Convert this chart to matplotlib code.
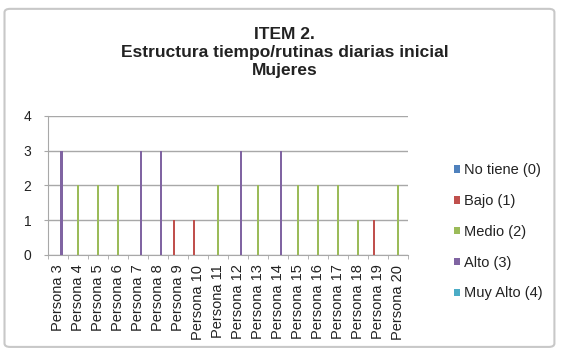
import numpy as np
import matplotlib.pyplot as plt
from matplotlib.patches import FancyBboxPatch, Patch

plt.rcParams['font.family'] = ['Liberation Sans', 'DejaVu Sans']

personas = ['Persona %d' % n for n in range(3, 21)]
series = ['No tiene (0)', 'Bajo (1)', 'Medio (2)', 'Alto (3)', 'Muy Alto (4)']
colors = ['#4F81BD', '#C0504D', '#9BBB59', '#8064A2', '#4BACC6']

# one value per persona and level (0 = no bar)
no_tiene = [0, 0, 0, 0, 0, 0, 0, 0, 0, 0, 0, 0, 0, 0, 0, 0, 0, 0]
bajo     = [0, 0, 0, 0, 0, 0, 1, 1, 0, 0, 0, 0, 0, 0, 0, 0, 1, 0]
medio    = [0, 2, 2, 2, 0, 0, 0, 0, 2, 0, 2, 0, 2, 2, 2, 1, 0, 2]
alto     = [3, 0, 0, 0, 3, 3, 0, 0, 0, 3, 0, 3, 0, 0, 0, 0, 0, 0]
muy_alto = [0, 0, 0, 0, 0, 0, 0, 0, 0, 0, 0, 0, 0, 0, 0, 0, 0, 0]
values = [no_tiene, bajo, medio, alto, muy_alto]

fig = plt.figure(figsize=(5.64, 3.54), dpi=100)
fig.patches.append(FancyBboxPatch((0.008, 0.02), 0.975, 0.955,
                                  boxstyle='round,pad=0,rounding_size=0.01',
                                  transform=fig.transFigure, fill=False,
                                  edgecolor='#c8c8c8', linewidth=1.5))

ax = fig.add_axes([0.085, 0.28, 0.638, 0.393])
x = np.arange(len(personas))
step = 0.175
for i, (name, vals, col) in enumerate(zip(series, values, colors)):
    ax.bar(x + (i - 2) * step, vals, width=0.11, color=col, label=name, zorder=3)

ax.set_xlim(-0.5, len(personas) - 0.5)
ax.set_ylim(0, 4)
ax.set_yticks(range(5))
ax.yaxis.grid(True, color='#a8a8a8', linewidth=1)
ax.set_axisbelow(True)
for s in ['top', 'right']:
    ax.spines[s].set_visible(False)
ax.spines['left'].set_color('#a8a8a8')
ax.spines['bottom'].set_color('#a8a8a8')
ax.set_xticks(x)
ax.set_xticklabels(personas, rotation=90, fontsize=10.5, color='#222222')
ax.set_xticks(np.arange(-0.5, len(personas)), minor=True)
ax.tick_params(axis='x', which='major', length=0, pad=7)
ax.tick_params(axis='x', which='minor', length=3, color='#a8a8a8')
ax.tick_params(axis='y', length=3, color='#a8a8a8', labelsize=10, pad=9,
               labelcolor='#222222')

fig.text(0.505, 0.925, 'ITEM 2.\nEstructura tiempo/rutinas diarias inicial\nMujeres',
         ha='center', va='top', fontsize=12.5, fontweight='bold', linespacing=1.25,
         color='#222222')

handles = [Patch(facecolor=c, edgecolor='none') for c in colors]
fig.legend(handles, series, loc='upper left', bbox_to_anchor=(0.795, 0.555),
           frameon=False, fontsize=10.5, handlelength=0.4, handleheight=0.4,
           handletextpad=0.25, labelspacing=1.15, borderaxespad=0,
           labelcolor='#222222')

plt.savefig('out.png', dpi=100)
